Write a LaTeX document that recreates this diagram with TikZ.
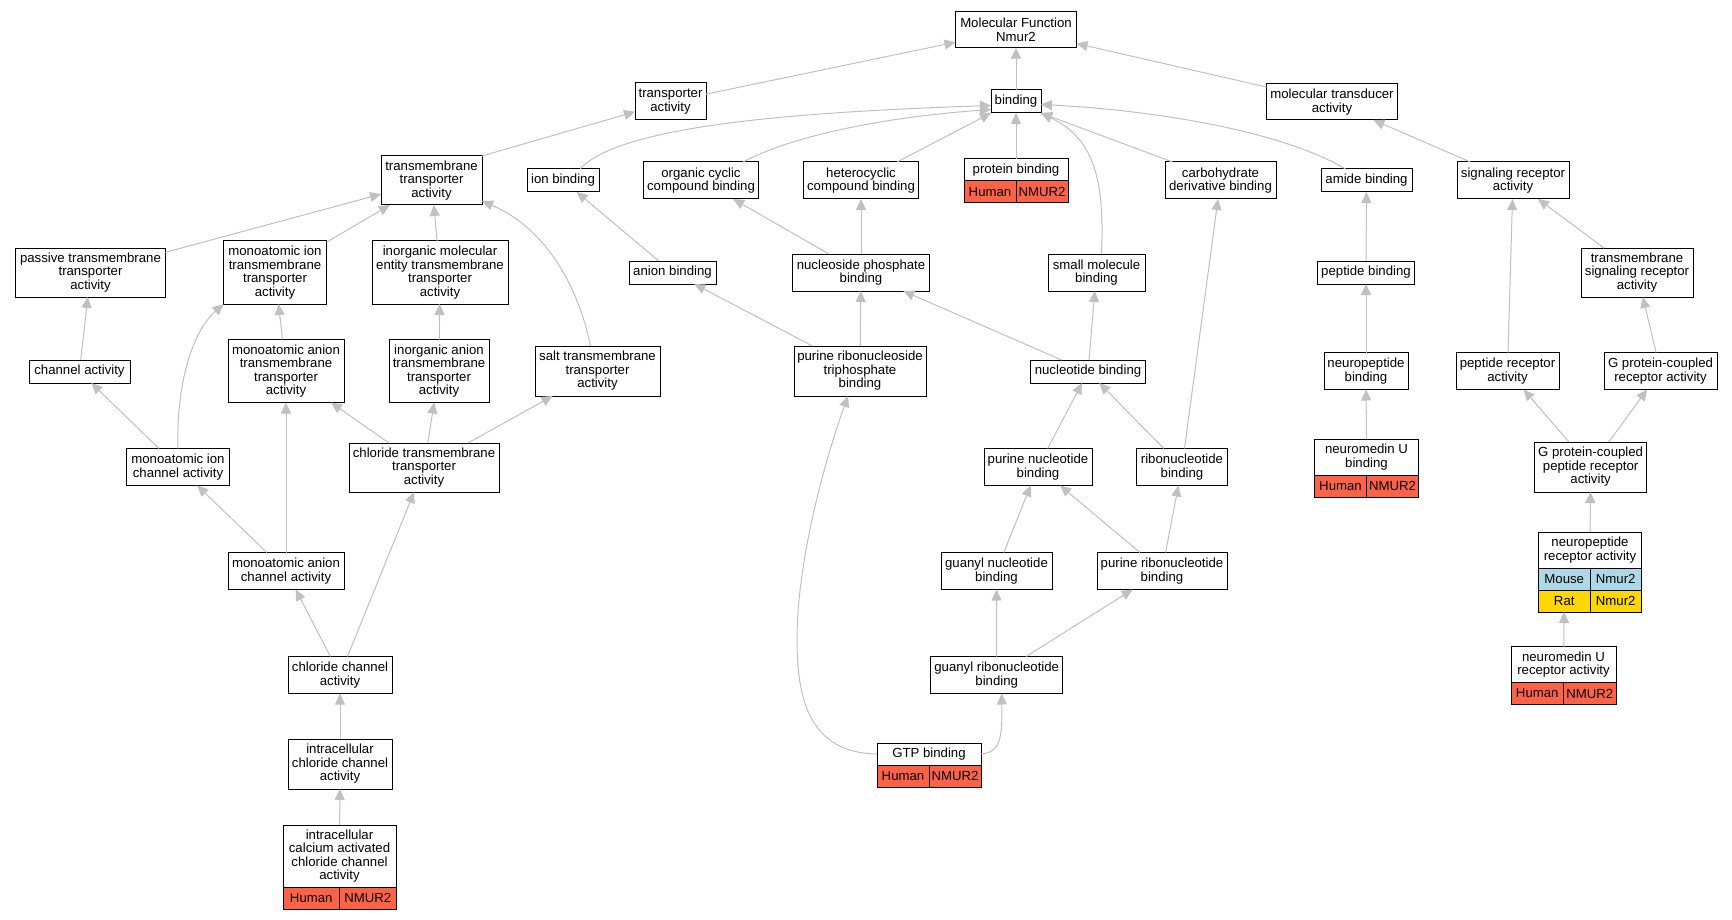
\documentclass[tikz,border=0pt]{standalone}
\usepackage{fontspec}
\setmainfont{Liberation Sans}
\usepackage{xcolor}
\usepackage{tikz}
\usetikzlibrary{arrows.meta}
\definecolor{human}{HTML}{FF6347}
\definecolor{mouse}{HTML}{ADD8E6}
\definecolor{rat}{HTML}{FFD700}
\definecolor{edgegray}{HTML}{C0C0C0}

\begin{document}
\begin{tikzpicture}[x=1pt, y=-1pt]
	\tikzstyle{box} = [rectangle, draw = black, line width = 1pt, fill = white, align = center, inner sep = 0pt, outer sep = 0pt, font = \fontsize{13.2}{13.5}\selectfont]
	\tikzstyle{tag} = [box, minimum height = 22pt]
	\tikzstyle{edge} = [draw = edgegray, line width = 1pt, -{Triangle[length=11pt, width=10pt]}]
\useasboundingbox (0,0) rectangle (1732,920);
\node[box, minimum width = 121pt, minimum height = 36pt] (0) at (1016, 29.7) {Molecular Function\\Nmur2};
\node[box, minimum width = 71pt, minimum height = 37pt] (1) at (670.5, 101.5) {transporter\\activity};
\node[box, minimum width = 50pt, minimum height = 23pt] (2) at (1016, 101.5) {binding};
\node[box, minimum width = 131pt, minimum height = 36pt] (3) at (1332, 102) {molecular transducer\\activity};
\node[box, minimum width = 101pt, minimum height = 49pt] (4) at (431.5, 180.5) {transmembrane\\transporter\\activity};
\node[box, minimum width = 72pt, minimum height = 23pt] (5) at (563, 180.5) {ion binding};
\node[box, minimum width = 115pt, minimum height = 37pt] (6) at (701, 180.5) {organic cyclic\\compound binding};
\node[box, minimum width = 115pt, minimum height = 37pt] (7) at (861, 180.5) {heterocyclic\\compound binding};
\node[box, minimum width = 104pt, minimum height = 22pt] (8) at (1016, 170) {protein binding};
\node[box, minimum width = 111pt, minimum height = 37pt] (9) at (1220.5, 180.5) {carbohydrate\\derivative binding};
\node[box, minimum width = 91pt, minimum height = 23pt] (10) at (1366.5, 180.5) {amide binding};
\node[box, minimum width = 112pt, minimum height = 37pt] (11) at (1513, 180.5) {signaling receptor\\activity};
\node[box, minimum width = 150pt, minimum height = 49pt] (12) at (90.5, 272.5) {passive transmembrane\\transporter\\activity};
\node[box, minimum width = 103pt, minimum height = 63pt] (13) at (275, 272.5) {monoatomic ion\\transmembrane\\transporter\\activity};
\node[box, minimum width = 136pt, minimum height = 63pt] (14) at (440, 272.5) {inorganic molecular\\entity transmembrane\\transporter\\activity};
\node[box, minimum width = 87pt, minimum height = 23pt] (15) at (672.5, 272.5) {anion binding};
\node[box, minimum width = 137pt, minimum height = 37pt] (16) at (861, 272.5) {nucleoside phosphate\\binding};
\node[box, minimum width = 97pt, minimum height = 37pt] (17) at (1096.5, 272.5) {small molecule\\binding};
\node[box, minimum width = 97pt, minimum height = 23pt] (18) at (1366, 272.5) {peptide binding};
\node[box, minimum width = 112pt, minimum height = 49pt] (19) at (1637, 272.5) {transmembrane\\signaling receptor\\activity};
\node[box, minimum width = 101pt, minimum height = 23pt] (20) at (79.5, 371.5) {channel activity};
\node[box, minimum width = 116pt, minimum height = 63pt] (21) at (286, 371) {monoatomic anion\\transmembrane\\transporter\\activity};
\node[box, minimum width = 100pt, minimum height = 63pt] (22) at (439, 371) {inorganic anion\\transmembrane\\transporter\\activity};
\node[box, minimum width = 125pt, minimum height = 50pt] (23) at (597.5, 371) {salt transmembrane\\transporter\\activity};
\node[box, minimum width = 132pt, minimum height = 50pt] (24) at (860, 371) {purine ribonucleoside\\triphosphate\\binding};
\node[box, minimum width = 115pt, minimum height = 23pt] (25) at (1088, 371.5) {nucleotide binding};
\node[box, minimum width = 84pt, minimum height = 37pt] (26) at (1366, 371) {neuropeptide\\binding};
\node[box, minimum width = 103pt, minimum height = 37pt] (27) at (1507.5, 371) {peptide receptor\\activity};
\node[box, minimum width = 113pt, minimum height = 37pt] (28) at (1660.5, 371) {G protein-coupled\\receptor activity};
\node[box, minimum width = 103pt, minimum height = 37pt] (29) at (178, 467) {monoatomic ion\\channel activity};
\node[box, minimum width = 150pt, minimum height = 49pt] (30) at (424, 467.5) {chloride transmembrane\\transporter\\activity};
\node[box, minimum width = 108pt, minimum height = 37pt] (31) at (1038, 467) {purine nucleotide\\binding};
\node[box, minimum width = 91pt, minimum height = 37pt] (32) at (1182, 467) {ribonucleotide\\binding};
\node[box, minimum width = 104pt, minimum height = 36pt] (33) at (1366.5, 457) {neuromedin U\\binding};
\node[box, minimum width = 112pt, minimum height = 50pt] (34) at (1590.6, 467) {G protein-coupled\\peptide receptor\\activity};
\node[box, minimum width = 116pt, minimum height = 37pt] (35) at (286, 571) {monoatomic anion\\channel activity};
\node[box, minimum width = 111pt, minimum height = 37pt] (36) at (996.5, 571) {guanyl nucleotide\\binding};
\node[box, minimum width = 130pt, minimum height = 37pt] (37) at (1162, 571) {purine ribonucleotide\\binding};
\node[box, minimum width = 103pt, minimum height = 36pt] (38) at (1590, 550) {neuropeptide\\receptor activity};
\node[box, minimum width = 104pt, minimum height = 37pt] (39) at (340, 675) {chloride channel\\activity};
\node[box, minimum width = 132pt, minimum height = 37pt] (40) at (996.7, 675) {guanyl ribonucleotide\\binding};
\node[box, minimum width = 105pt, minimum height = 36pt] (41) at (1563.5, 664.5) {neuromedin U\\receptor activity};
\node[box, minimum width = 104pt, minimum height = 50pt] (42) at (340, 764) {intracellular\\chloride channel\\activity};
\node[box, minimum width = 104pt, minimum height = 22pt] (43) at (929, 754) {GTP binding};
\node[box, minimum width = 113pt, minimum height = 62pt] (44) at (339.5, 856) {intracellular\\calcium activated\\chloride channel\\activity};

	% species rows
	\node[tag, fill = human, minimum width = 52pt, anchor = north west] (8a) at (8.south west) {Human};
	\node[tag, fill = human, minimum width = 52pt, anchor = north east] (8b) at (8.south east) {NMUR2};
	\node[tag, fill = human, minimum width = 52pt, anchor = north west] (33a) at (33.south west) {Human};
	\node[tag, fill = human, minimum width = 52pt, anchor = north east] (33b) at (33.south east) {NMUR2};
	\node[tag, fill = mouse, minimum width = 51.5pt, anchor = north west] (38a) at (38.south west) {Mouse};
	\node[tag, fill = mouse, minimum width = 51.5pt, anchor = north east] (38b) at (38.south east) {Nmur2};
	\node[tag, fill = rat, minimum width = 51.5pt, anchor = north west] (38c) at (38a.south west) {Rat};
	\node[tag, fill = rat, minimum width = 51.5pt, anchor = north east] (38d) at (38b.south east) {Nmur2};
	\node[tag, fill = human, minimum width = 52.5pt, anchor = north west] (41a) at (41.south west) {Human};
	\node[tag, fill = human, minimum width = 52.5pt, anchor = north east] (41b) at (41.south east) {NMUR2};
	\node[tag, fill = human, minimum width = 52pt, anchor = north west] (43a) at (43.south west) {Human};
	\node[tag, fill = human, minimum width = 52pt, anchor = north east] (43b) at (43.south east) {NMUR2};
	\node[tag, fill = human, minimum width = 56.5pt, anchor = north west] (44a) at (44.south west) {Human};
	\node[tag, fill = human, minimum width = 56.5pt, anchor = north east] (44b) at (44.south east) {NMUR2};

	\path[edge] (1) -- (0);
	\path[edge] (2) -- (0);
	\path[edge] (3) -- (0);
	\path[edge] (4.north east) -- (1);
	\path[edge] ([xshift=17pt]5.north) .. controls (620,125) and (800,112) .. ([yshift=-4pt]2.west);
	\path[edge] ([xshift=42pt]6.north) .. controls (800,132) and (900,116) .. ([yshift=-8pt]2.west);
	\path[edge] ([xshift=36pt]7.north) -- (2.south west);
	\path[edge] (8) -- (2);
	\path[edge] ([xshift=-48pt]9.north) -- (2.south east);
	\path[edge] ([xshift=-21pt]10.north) .. controls (1280,130) and (1150,110) .. ([yshift=-3pt]2.east);
	\path[edge] ([xshift=5pt]17.north) .. controls (1105,175) and (1092,138) .. (2.south east);
	\path[edge] (11) -- (3);
	\path[edge] (12) -- (4);
	\path[edge] (13) -- (4);
	\path[edge] (14) -- (4);
	\path[edge] ([xshift=-7pt]23.north) .. controls (578,285) and (545,228) .. ([yshift=4pt]4.south east);
	\path[edge] (15) -- (5);
	\path[edge] (16) -- (6);
	\path[edge] (16) -- (7);
	\path[edge] (25) -- (17);
	\path[edge] (25) -- (16);
	\path[edge] (18) -- (10);
	\path[edge] (27) -- (11);
	\path[edge] (19) -- (11);
	\path[edge] (20) -- (12);
	\path[edge] (21) -- (13);
	\path[edge] (22) -- (14);
	\path[edge] (24) -- (15);
	\path[edge] (24) -- (16);
	\path[edge] (26) -- (18);
	\path[edge] (28) -- (19);
	\path[edge] (29) -- (20);
	\path[edge] (29.north) .. controls (176,385) and (192,332) .. (13.south west);
	\path[edge] (30) -- (21);
	\path[edge] (30) -- (22);
	\path[edge] (30) -- (23);
	\path[edge] (31) -- (25);
	\path[edge] (32) -- (25);
	\path[edge] (32) -- (9);
	\path[edge] (33) -- (26);
	\path[edge] (34) -- (27);
	\path[edge] (34) -- (28);
	\path[edge] (35) -- (29);
	\path[edge] (35) -- (21);
	\path[edge] (39) -- (35);
	\path[edge] (39) -- (30);
	\path[edge] (36) -- (31);
	\path[edge] (37) -- (31);
	\path[edge] (37) -- (32);
	\path[edge] (38) -- (34);
	\path[edge] (40) -- (36);
	\path[edge] (40) -- (37);
	\path[edge] (41) -- (38c);
	\path[edge] (42) -- (39);
	\path[edge] (44) -- (42);
	\path[edge] (43.west) .. controls (810,753) and (797,700) .. (797,640) .. controls (797,560) and (825,460) .. ([xshift=-12pt]24.south);
	\path[edge] (43.east) .. controls (1003,753) and (1002,730) .. ([xshift=5pt]40.south);
\end{tikzpicture}
\end{document}
